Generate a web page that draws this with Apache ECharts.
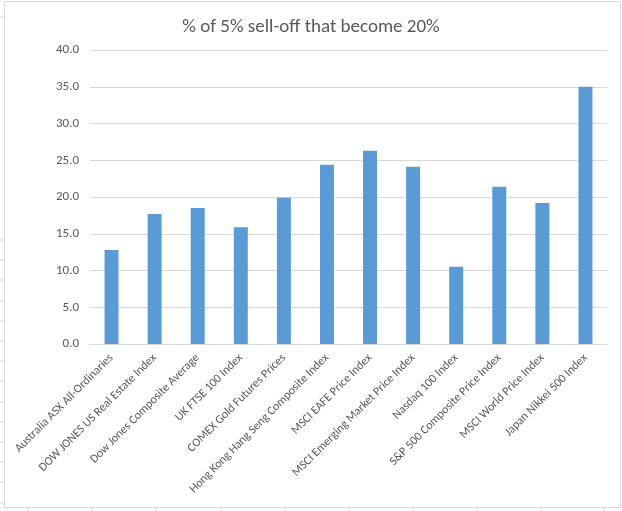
<!DOCTYPE html>
<html>
<head>
    <meta charset="utf-8">
    <title>% of 5% sell-off that become 20%</title>
    <script src="https://cdn.jsdelivr.net/npm/echarts@6/dist/echarts.min.js"></script>
    <style>
        html, body { margin: 0; padding: 0; background: #fff; }
        #main { width: 622px; height: 511px; }
    </style>
</head>
<body>
<div id="main"></div>
<script type="text/javascript">
    // 数据
    var indexNames = [
        'Australia ASX All-Ordinaries',
        'DOW JONES US Real Estate Index',
        'Dow Jones Composite Average',
        'UK FTSE 100 Index',
        'COMEX Gold Futures Prices',
        'Hong Kong Hang Seng Composite Index',
        'MSCI EAFE Price Index',
        'MSCI Emerging Market Price Index',
        'Nasdaq 100 Index',
        'S&P 500 Composite Price Index',
        'MSCI World Price Index',
        'Japan Nikkei 500 Index'
    ];
    var pctBecome20 = [12.8, 17.7, 18.5, 15.9, 19.9, 24.4, 26.3, 24.1, 10.5, 21.4, 19.2, 35.0];
    var yTicks = [0, 5, 10, 15, 20, 25, 30, 35, 40];

    var fontFamily = 'Carlito, Calibri, "Liberation Sans Narrow", "Liberation Sans", sans-serif';
    var textColor = '#595959';
    var sheetLine = '#d4d4d4';

    // 表格的背景线 (spreadsheet cells around the chart)
    var decor = [];
    var colX = [28, 92, 156, 221, 285, 349, 413, 477, 541, 604];
    colX.forEach(function (x) {
        decor.push({ type: 'line', shape: { x1: x, y1: 507, x2: x, y2: 511 }, style: { stroke: sheetLine, lineWidth: 1 }, silent: true });
    });
    var rowY = [17];
    for (var y = 240; y <= 505; y += 20.2) { rowY.push(Math.round(y)); }
    rowY.forEach(function (y) {
        decor.push({ type: 'line', shape: { x1: 0, y1: y, x2: 4, y2: y }, style: { stroke: sheetLine, lineWidth: 1 }, silent: true });
    });
    // chart border
    decor.push({ type: 'rect', shape: { x: 4.5, y: 1.5, width: 616, height: 506 }, style: { fill: null, stroke: '#d9d9d9', lineWidth: 1 }, silent: true });

    var myChart = echarts.init(document.getElementById('main'));
    var option = {
        animation: false,
        backgroundColor: '#fff',
        title: {
            text: '% of 5% sell-off that become 20%',
            left: 'center',
            top: 13,
            textStyle: { fontFamily: fontFamily, fontSize: 19, fontWeight: 'normal', color: textColor }
        },
        grid: { left: 90, right: 15, top: 50, bottom: 167 },
        xAxis: {
            type: 'category',
            data: indexNames,
            axisLine: { lineStyle: { color: '#d9d9d9' } },
            axisTick: { show: false },
            axisLabel: {
                interval: 0,
                rotate: 45,
                margin: 12,
                fontFamily: fontFamily,
                fontSize: 12,
                color: textColor
            }
        },
        yAxis: {
            type: 'value',
            min: yTicks[0],
            max: yTicks[yTicks.length - 1],
            interval: 5,
            axisLine: { show: false },
            axisTick: { show: false },
            splitLine: { lineStyle: { color: '#d9d9d9' } },
            axisLabel: {
                margin: 11,
                fontFamily: fontFamily,
                fontSize: 13,
                color: textColor,
                formatter: function (v) { return v.toFixed(1); }
            }
        },
        series: [{
            type: 'bar',
            data: pctBecome20,
            barWidth: 14,
            itemStyle: { color: '#5b9bd5' }
        }],
        graphic: decor
    };
    myChart.setOption(option);
</script>
</body>
</html>
